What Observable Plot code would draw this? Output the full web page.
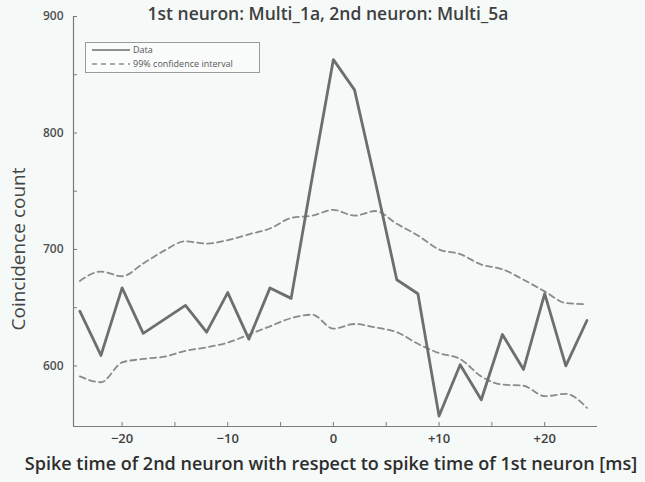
<!DOCTYPE html>
<html><head><meta charset="utf-8">
<script src="https://cdn.jsdelivr.net/npm/d3@7"></script>
<script src="https://cdn.jsdelivr.net/npm/@observablehq/plot@0.6"></script>
<style>
body{margin:0;background:#f5f9f8;font-family:"Open Sans",sans-serif;}
#wrap{position:relative;width:645px;height:482px;overflow:hidden;}
#title{position:absolute;top:1px;left:0;width:656px;text-align:center;font-size:17.5px;font-weight:600;color:#404040;white-space:nowrap;}
#xlabel{position:absolute;top:451px;left:0;width:662px;text-align:center;font-size:18px;font-weight:600;color:#2e2e2e;white-space:nowrap;}
#ylabel{position:absolute;left:18px;top:249px;transform:translate(-50%,-50%) rotate(-90deg);font-size:19px;font-weight:500;color:#454545;white-space:nowrap;}
#legend{position:absolute;left:85px;top:42px;width:175px;height:31px;border:1px solid #9a9a9a;background:#fafcfc;font-size:9px;color:#555;box-sizing:border-box;}
#legend .row{position:absolute;left:6px;display:flex;align-items:center;white-space:nowrap;}
#legend svg{margin-right:3px;}
</style></head>
<body>
<div id="wrap">
  <div id="chart"></div>
  <div id="title">1st neuron: Multi_1a, 2nd neuron: Multi_5a</div>
  <div id="xlabel">Spike time of 2nd neuron with respect to spike time of 1st neuron [ms]</div>
  <div id="ylabel">Coincidence count</div>
  <div id="legend">
    <div class="row" style="top:0px"><svg width="38" height="10"><line x1="0" y1="5" x2="38" y2="5" stroke="#6e6e6e" stroke-width="1.6"/></svg><span>Data</span></div>
    <div class="row" style="top:14px"><svg width="38" height="10"><line x1="0" y1="5" x2="38" y2="5" stroke="#8a8a8a" stroke-width="1.4" stroke-dasharray="5,4"/></svg><span>99% confidence interval</span></div>
  </div>
</div>
<script>
const lags   = [-24,-22,-20,-18,-16,-14,-12,-10,-8,-6,-4,-2,0,2,4,6,8,10,12,14,16,18,20,22,24];
const counts = [647,609,667,628,640,652,629,663,623,667,658,762,863,837,757,674,662,557,601,571,627,597,662,600,639];
const upper  = [673,681,677,688,699,707,705,708,713,718,727,729,734,729,733,722,712,700,696,687,683,674,664,654,653];
const lower  = [591,586,603,606,608,613,616,620,627,634,641,644,632,636,633,629,619,611,606,591,584,583,574,576,564];
const xTicks = [-20,-15,-10,-5,0,5,10,15,20];
const xLabeled = [-20,-10,0,10,20];
const yTicks = [600,650,700,750,800,850,900];
const yLabeled = [600,700,800,900];
const xDomain = [-24.6, 25];
const yDomain = [548, 900];

const rows = lags.map((t,i)=>({t, count:counts[i], upper:upper[i], lower:lower[i]}));
const fmtX = d => d === 0 ? "0" : d > 0 ? "+" + d : "\u2212" + Math.abs(d);

const chart = Plot.plot({
  width: 645, height: 482,
  marginLeft: 73, marginRight: 48, marginTop: 16, marginBottom: 56,
  style: {background: "transparent", fontFamily: "Open Sans, sans-serif", color: "#444"},
  x: {domain: xDomain},
  y: {domain: yDomain},
  marks: [
    Plot.ruleY([yDomain[0]], {stroke: "#7a7a7a", strokeWidth: 1.2}),
    Plot.ruleX([xDomain[0]], {stroke: "#7a7a7a", strokeWidth: 1.2}),
    Plot.axisX(xTicks, {tickSize: -4, tickFormat: () => "", label: null, stroke: "#7a7a7a"}),
    Plot.axisX(xLabeled, {tickSize: 0, tickPadding: 7, tickFormat: fmtX, label: null, fontSize: 13, fontWeight: 600, fill: "#404040"}),
    Plot.axisY(yTicks, {tickSize: -4, tickFormat: () => "", label: null, stroke: "#7a7a7a"}),
    Plot.axisY(yLabeled, {tickSize: 0, tickPadding: 10, label: null, fontSize: 12, fontWeight: 600, fill: "#505050"}),
    Plot.line(rows, {x: "t", y: "upper", stroke: "#8a8a8a", strokeWidth: 1.8, strokeDasharray: "6,4", curve: "monotone-x"}),
    Plot.line(rows, {x: "t", y: "lower", stroke: "#8a8a8a", strokeWidth: 1.8, strokeDasharray: "6,4", curve: "monotone-x"}),
    Plot.line(rows, {x: "t", y: "count", stroke: "#6e6e6e", strokeWidth: 2.8})
  ]
});
document.getElementById("chart").appendChild(chart);
</script>
</body></html>
